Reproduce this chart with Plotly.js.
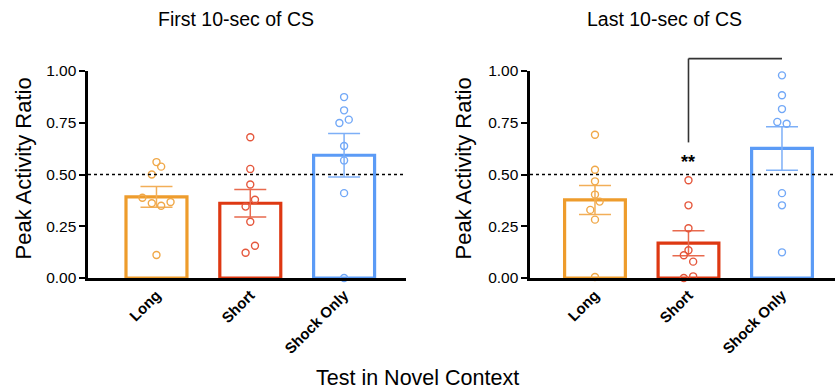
<!DOCTYPE html>
<html>
<head>
<meta charset="utf-8">
<script src="https://cdn.plot.ly/plotly-3.0.1.min.js"></script>
<style>html,body{margin:0;padding:0;background:#fff;}#chart{width:835px;height:391px;}</style>
</head>
<body>
<div id="chart"></div>
<script>
// ---- data ----
const categories = ['Long', 'Short', 'Shock Only'];
const panelTitles = ['First 10-sec of CS', 'Last 10-sec of CS'];

const firstMeans = [0.392, 0.361, 0.593];
const firstSem   = [0.050, 0.066, 0.105];
const lastMeans  = [0.377, 0.168, 0.626];
const lastSem    = [0.070, 0.060, 0.105];

const firstLong  = [0.560, 0.538, 0.500, 0.388, 0.361, 0.349, 0.367, 0.111];
const firstShort = [0.680, 0.527, 0.452, 0.378, 0.345, 0.272, 0.156, 0.122];
const firstShock = [0.874, 0.810, 0.765, 0.749, 0.638, 0.568, 0.410, 0.000];
const lastLong   = [0.692, 0.523, 0.467, 0.403, 0.369, 0.329, 0.282, 0.005];
const lastShort  = [0.472, 0.351, 0.240, 0.134, 0.110, 0.079, 0.008, 0.000];
const lastShock  = [0.979, 0.883, 0.816, 0.754, 0.745, 0.410, 0.351, 0.124];

// horizontal spread of the dots (category units)
const firstLongJit  = [0, 0.05, -0.05, -0.15, -0.05, 0.05, 0.15, 0];
const firstShortJit = [0, 0, 0, 0.05, -0.05, 0, 0.05, -0.05];
const firstShockJit = [0, 0, 0.05, -0.05, 0, 0, 0, 0];
const lastLongJit   = [0, 0, 0, 0, 0.05, -0.05, 0, 0];
const lastShortJit  = [0, 0, 0, 0, -0.05, 0.05, 0.05, -0.05];
const lastShockJit  = [0, 0, 0, -0.05, 0.05, 0, 0, 0];

const yTicks = [0, 0.25, 0.5, 0.75, 1.0];
const chance = 0.5;
const sigLabel = '**';
const sigPair = [1, 2];     // Short vs Shock Only (last panel)
const sigBracketTop = 1.06;
const sigBracketBottom = 0.655;
const sigLabelY = 0.56;

// ---- style ----
const FONT = 'Liberation Sans, Arial, Helvetica, sans-serif';
const barColors = ['#EE9C2C', '#DE3812', '#5B9BF6'];
const dotColors = ['#F0A848', '#E5573C', '#72A8F7'];
const errColors = ['#F2AE58', '#E86A4E', '#7DAFF7'];
const xRange1 = [-0.73, 2.66];
const xRange2 = [-0.695, 2.567];

const panels = [
  {means: firstMeans, sem: firstSem, pts: [firstLong, firstShort, firstShock],
   jit: [firstLongJit, firstShortJit, firstShockJit], xa: 'x', ya: 'y'},
  {means: lastMeans, sem: lastSem, pts: [lastLong, lastShort, lastShock],
   jit: [lastLongJit, lastShortJit, lastShockJit], xa: 'x2', ya: 'y2'}
];

const traces = [];
panels.forEach(p => {
  categories.forEach((c, i) => {
    traces.push({
      type: 'bar', x: [i], y: [p.means[i]], width: 0.65, xaxis: p.xa, yaxis: p.ya,
      marker: {color: 'rgba(255,255,255,0)', line: {color: barColors[i], width: 3.2}},
      error_y: {type: 'data', array: [p.sem[i]], visible: true, color: errColors[i], thickness: 1.5, width: 16},
      showlegend: false, hoverinfo: 'skip'
    });
  });
  categories.forEach((c, i) => {
    traces.push({
      type: 'scatter', mode: 'markers', xaxis: p.xa, yaxis: p.ya,
      x: p.pts[i].map((v, k) => i + p.jit[i][k]), y: p.pts[i],
      marker: {symbol: 'circle-open', size: 7, color: dotColors[i], line: {width: 1.4}},
      cliponaxis: false, showlegend: false, hoverinfo: 'skip'
    });
  });
});

function xaxisDef(domain, range, anchor) {
  return {
    domain: domain, range: range, anchor: anchor,
    tickvals: [0, 1, 2], ticktext: categories, tickangle: -45,
    tickfont: {family: FONT, size: 15, color: '#000', weight: 'bold'},
    ticks: '',
    showline: true, linewidth: 2.6, linecolor: '#000',
    showgrid: false, zeroline: false, fixedrange: true
  };
}
function yaxisDef(anchor) {
  return {
    domain: [0, 1], range: [0, 1], anchor: anchor,
    tickvals: yTicks, ticktext: yTicks.map(v => v.toFixed(2)),
    tickfont: {family: FONT, size: 15.5, color: '#000'},
    ticks: 'outside', ticklen: 6, tickwidth: 2, tickcolor: '#000',
    showline: true, linewidth: 2.6, linecolor: '#000',
    showgrid: false, zeroline: false, fixedrange: true
  };
}

const W = 835, H = 391, MT = 71, MB = 113;
const plotH = H - MT - MB;
const dom1 = [88 / W, 406 / W];
const dom2 = [530 / W, 1];

function fracX(v, r) { return (v - r[0]) / (r[1] - r[0]); }
function paperY(px) { return (H - MB - px) / plotH; }

const shapes = [
  {type: 'line', xref: 'x', yref: 'y', x0: xRange1[0], x1: xRange1[1], y0: chance, y1: chance,
   line: {color: '#000', width: 1.6, dash: 'dot'}, layer: 'above'},
  {type: 'line', xref: 'x2', yref: 'y2', x0: xRange2[0], x1: xRange2[1], y0: chance, y1: chance,
   line: {color: '#000', width: 1.6, dash: 'dot'}, layer: 'above'},
  {type: 'line', xref: 'x2 domain', yref: 'y2 domain',
   x0: fracX(sigPair[0], xRange2), x1: fracX(sigPair[0], xRange2), y0: sigBracketBottom, y1: sigBracketTop,
   line: {color: '#333', width: 1.6}},
  {type: 'line', xref: 'x2 domain', yref: 'y2 domain',
   x0: fracX(sigPair[0], xRange2), x1: fracX(sigPair[1], xRange2), y0: sigBracketTop, y1: sigBracketTop,
   line: {color: '#333', width: 1.6}}
];

const annotations = [
  {text: panelTitles[0], xref: 'paper', yref: 'paper', x: 236 / W, y: paperY(19),
   showarrow: false, font: {family: FONT, size: 19.5, color: '#000'}, xanchor: 'center', yanchor: 'middle'},
  {text: panelTitles[1], xref: 'paper', yref: 'paper', x: 664 / W, y: paperY(19),
   showarrow: false, font: {family: FONT, size: 19.5, color: '#000'}, xanchor: 'center', yanchor: 'middle'},
  {text: 'Peak Activity Ratio', xref: 'x domain', yref: 'y domain', x: 0, y: 0.5, xshift: -65, yshift: 6,
   textangle: -90, showarrow: false, font: {family: FONT, size: 22, color: '#000'}, xanchor: 'center', yanchor: 'middle'},
  {text: 'Peak Activity Ratio', xref: 'x2 domain', yref: 'y2 domain', x: 0, y: 0.5, xshift: -67, yshift: 6,
   textangle: -90, showarrow: false, font: {family: FONT, size: 22, color: '#000'}, xanchor: 'center', yanchor: 'middle'},
  {text: 'Test in Novel Context', xref: 'paper', yref: 'paper', x: 417 / W, y: paperY(378),
   showarrow: false, font: {family: FONT, size: 21.5, color: '#000'}, xanchor: 'center', yanchor: 'middle'},
  {text: sigLabel, xref: 'x2', yref: 'y2', x: sigPair[0], y: sigLabelY,
   showarrow: false, font: {family: FONT, size: 18, color: '#000', weight: 'bold'}, xanchor: 'center', yanchor: 'middle'}
];

const layout = {
  width: W, height: H,
  margin: {l: 0, r: 0, t: MT, b: MB, pad: 0},
  paper_bgcolor: '#fff', plot_bgcolor: 'rgba(0,0,0,0)',
  font: {family: FONT, color: '#000'},
  barmode: 'overlay',
  showlegend: false,
  xaxis: xaxisDef(dom1, xRange1, 'y'),
  yaxis: yaxisDef('x'),
  xaxis2: xaxisDef(dom2, xRange2, 'y2'),
  yaxis2: yaxisDef('x2'),
  shapes: shapes,
  annotations: annotations
};

Plotly.newPlot('chart', traces, layout, {displayModeBar: false, staticPlot: true});
</script>
</body>
</html>
